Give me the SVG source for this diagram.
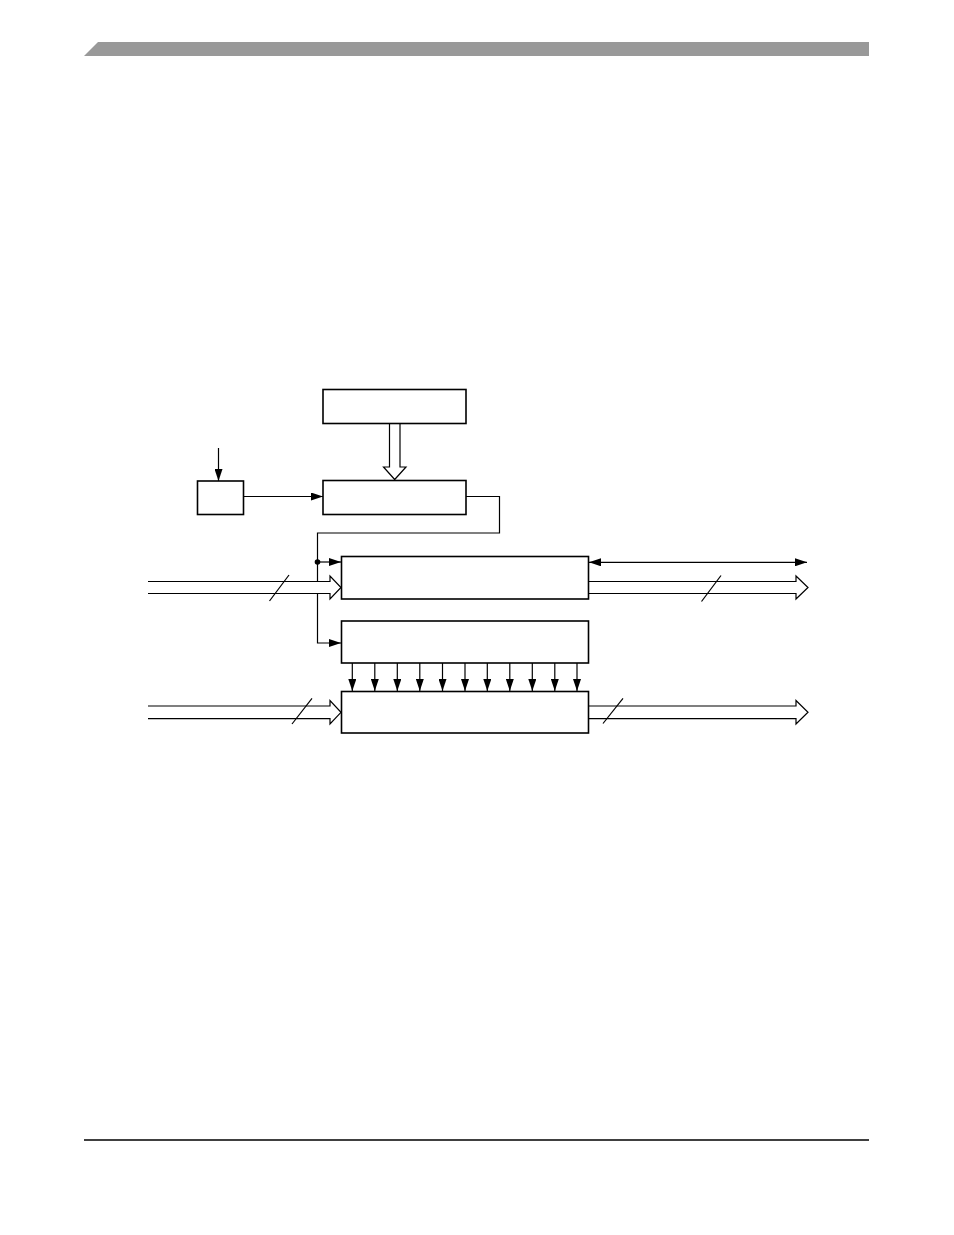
<svg xmlns="http://www.w3.org/2000/svg" width="954" height="1235" viewBox="0 0 954 1235">
<style>
.box{fill:#fff;stroke:#000;stroke-width:1.6}
.ln{fill:none;stroke:#000;stroke-width:1.2}
.bus{fill:#fff;stroke:#000;stroke-width:1.2}
</style>
<defs>
<marker id="ah" viewBox="0 0 12 8" refX="12" refY="4" markerWidth="12" markerHeight="8" markerUnits="userSpaceOnUse" orient="auto-start-reverse">
<path d="M0,0 L12,4 L0,8 Z" fill="#000"/>
</marker>
</defs>
<rect width="954" height="1235" fill="#fff"/>
<polygon points="84,56 98,42 869,42 869,56" fill="#999"/>
<line x1="84" y1="1140" x2="869" y2="1140" stroke="#000" stroke-width="1.5"/>
<g id="connectors">
<path class="bus" d="M389.5,423 L389.5,467 L383.5,467 L394.7,479.5 L406,467 L400,467 L400,423"/>
<line class="ln" x1="218.5" y1="448" x2="218.5" y2="481" marker-end="url(#ah)"/>
<line class="ln" x1="243" y1="496.5" x2="323" y2="496.5" marker-end="url(#ah)"/>
<path class="ln" d="M466,496.5 L499.5,496.5 L499.5,533 L317.5,533 L317.5,643 L341,643" marker-end="url(#ah)"/>
<line class="ln" x1="317.5" y1="562" x2="341" y2="562" marker-end="url(#ah)"/>
<circle cx="317.5" cy="562" r="2.8" fill="#000"/>
<path class="bus" d="M148,581.5 L330,581.5 L330,576 L341,587.5 L330,599 L330,593.5 L148,593.5"/>
<line class="ln" x1="269.5" y1="601" x2="289" y2="575"/>
<path class="bus" d="M148,706 L330,706 L330,700.5 L341,712.3 L330,724 L330,718.7 L148,718.7"/>
<line class="ln" x1="292" y1="724" x2="312" y2="698.3"/>
<line class="ln" x1="589" y1="562.3" x2="807" y2="562.3" marker-start="url(#ah)" marker-end="url(#ah)"/>
<path class="bus" d="M589,581.5 L796,581.5 L796,576 L808,587.5 L796,599 L796,593.5 L589,593.5"/>
<line class="ln" x1="701.5" y1="601.5" x2="721" y2="575.5"/>
<path class="bus" d="M589,706 L796,706 L796,700.5 L808,712.3 L796,724 L796,718.7 L589,718.7"/>
<line class="ln" x1="603" y1="723.5" x2="623" y2="698.3"/>
<g>
<line class="ln" x1="352.3" y1="663" x2="352.3" y2="691" marker-end="url(#ah)"/>
<line class="ln" x1="374.8" y1="663" x2="374.8" y2="691" marker-end="url(#ah)"/>
<line class="ln" x1="397.3" y1="663" x2="397.3" y2="691" marker-end="url(#ah)"/>
<line class="ln" x1="419.8" y1="663" x2="419.8" y2="691" marker-end="url(#ah)"/>
<line class="ln" x1="442.5" y1="663" x2="442.5" y2="691" marker-end="url(#ah)"/>
<line class="ln" x1="465" y1="663" x2="465" y2="691" marker-end="url(#ah)"/>
<line class="ln" x1="487.3" y1="663" x2="487.3" y2="691" marker-end="url(#ah)"/>
<line class="ln" x1="509.8" y1="663" x2="509.8" y2="691" marker-end="url(#ah)"/>
<line class="ln" x1="532.3" y1="663" x2="532.3" y2="691" marker-end="url(#ah)"/>
<line class="ln" x1="554.8" y1="663" x2="554.8" y2="691" marker-end="url(#ah)"/>
<line class="ln" x1="577" y1="663" x2="577" y2="691" marker-end="url(#ah)"/>
</g>
</g>
<g id="node-top"><rect class="box" x="323" y="389.5" width="143" height="34"/></g>
<g id="node-mid"><rect class="box" x="323" y="480.5" width="143" height="34"/></g>
<g id="node-small"><rect class="box" x="197.5" y="481" width="46" height="33.5"/></g>
<g id="node-reg1"><rect class="box" x="341.5" y="556.5" width="247" height="42.5"/></g>
<g id="node-reg2"><rect class="box" x="341.5" y="621" width="247" height="42"/></g>
<g id="node-reg3"><rect class="box" x="341.5" y="691.5" width="247" height="41.5"/></g>
</svg>
